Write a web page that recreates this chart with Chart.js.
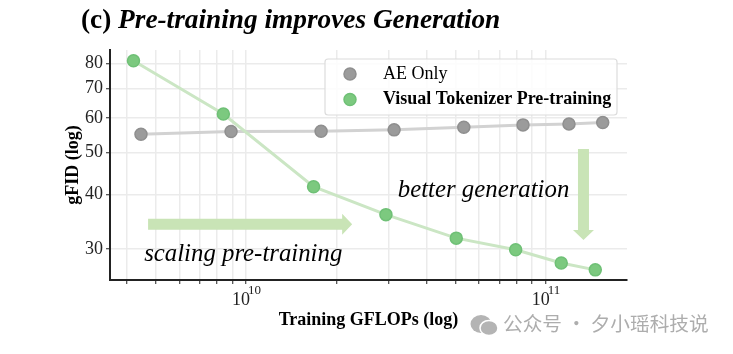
<!DOCTYPE html>
<html>
<head>
<meta charset="utf-8">
<style>
  html, body { margin: 0; padding: 0; background: #fff; }
  canvas { display: block; filter: blur(0.35px); }
</style>
<script src="https://cdn.jsdelivr.net/npm/chart.js@4"></script>
</head>
<body>
<canvas id="chart" width="733" height="354"></canvas>
<script>
const aeX = [4.46e9, 8.91e9, 1.78e10, 3.12e10, 5.33e10, 8.4e10, 1.196e11, 1.55e11];
const aeY = [55.0, 55.8, 55.9, 56.3, 57.1, 57.8, 58.1, 58.5];
const tokX = [4.21e9, 8.4e9, 1.68e10, 2.93e10, 5.03e10, 7.94e10, 1.127e11, 1.464e11];
const tokY = [81.1, 61.2, 41.7, 36.0, 31.8, 29.9, 27.9, 26.9];
const xTicks = [4e9, 5e9, 6e9, 7e9, 8e9, 9e9, 1e10, 2e10, 3e10, 4e10, 5e10, 6e10, 7e10, 8e10, 9e10, 1e11];
const xExponents = [[1e10, '10'], [1e11, '11']];
const yTicks = [30, 40, 50, 60, 70, 80];
const serif = '"Liberation Serif", serif';
const GREEN_ARROW = '#c9e4b6';

function toPairs(xs, ys) {
  return xs.map((x, i) => ({x: x, y: ys[i]}));
}

// title, x tick labels with superscript, legend, arrows, notes and watermark
const extras = {
  id: 'extras',
  afterDraw(chart) {
    const c = chart.ctx, sx = chart.scales.x, sy = chart.scales.y;
    c.save();
    c.textBaseline = 'middle';
    c.fillStyle = '#000';

    c.font = 'bold 27.3px ' + serif;
    c.fillText('(c) ', 81, 21);
    const w = c.measureText('(c) ').width;
    c.font = 'italic bold 27.3px ' + serif;
    c.fillText('Pre-training improves Generation', 81 + w, 21);

    // 10^n labels
    c.fillStyle = '#222';
    xExponents.forEach(e => {
      const px = sx.getPixelForValue(e[0]);
      c.font = '18px ' + serif;
      c.fillText('10', px - 14, 300);
      c.font = '13px ' + serif;
      c.fillText(e[1], px + 2, 291);
    });

    // arrows
    c.fillStyle = GREEN_ARROW;
    const ax0 = sx.getPixelForValue(4.71e9), ax1 = sx.getPixelForValue(2.26e10), ay = sy.getPixelForValue(34.2);
    c.beginPath();
    c.moveTo(ax0, ay - 5.5); c.lineTo(ax1 - 10, ay - 5.5); c.lineTo(ax1 - 10, ay - 10.5);
    c.lineTo(ax1, ay); c.lineTo(ax1 - 10, ay + 10.5); c.lineTo(ax1 - 10, ay + 5.5); c.lineTo(ax0, ay + 5.5);
    c.closePath(); c.fill();
    const bx = sx.getPixelForValue(1.337e11), by0 = sy.getPixelForValue(50.9), by1 = sy.getPixelForValue(31.5);
    c.beginPath();
    c.moveTo(bx - 5.5, by0); c.lineTo(bx + 5.5, by0); c.lineTo(bx + 5.5, by1 - 10); c.lineTo(bx + 10.5, by1 - 10);
    c.lineTo(bx, by1); c.lineTo(bx - 10.5, by1 - 10); c.lineTo(bx - 5.5, by1 - 10);
    c.closePath(); c.fill();

    // notes
    c.fillStyle = '#000';
    c.font = 'italic 24.8px ' + serif;
    c.fillText('better generation', sx.getPixelForValue(3.21e10), sy.getPixelForValue(40.9));
    c.fillText('scaling pre-training', sx.getPixelForValue(4.57e9), sy.getPixelForValue(29.1));

    // legend
    c.beginPath();
    c.roundRect(325, 59, 292, 56, 3);
    c.fillStyle = 'rgba(255,255,255,0.85)';
    c.fill();
    c.strokeStyle = '#dcdcdc';
    c.lineWidth = 1.2;
    c.stroke();
    chart.data.datasets.forEach((d, i) => {
      const ly = 74 + i * 25.5;
      c.beginPath();
      c.arc(350, ly, 6, 0, Math.PI * 2);
      c.fillStyle = d.backgroundColor;
      c.fill();
      c.strokeStyle = d.pointBorderColor;
      c.lineWidth = 1.5;
      c.stroke();
      c.fillStyle = '#000';
      c.font = (i === 1 ? 'bold ' : '') + '18px ' + serif;
      c.fillText(d.label, 383, ly);
    });

    // watermark
    c.fillStyle = '#b4b4b4';
    c.beginPath();
    c.ellipse(481, 324, 10.5, 9, 0, 0, Math.PI * 2);
    c.fill();
    c.strokeStyle = '#fff';
    c.lineWidth = 1.5;
    c.beginPath();
    c.ellipse(489, 328, 9, 7.5, 0, 0, Math.PI * 2);
    c.fill();
    c.stroke();
    c.fillStyle = '#adadad';
    c.font = '19.7px "Noto Sans CJK SC"';
    c.fillText('公众号 · 夕小瑶科技说', 503, 324);
    c.restore();
  }
};

const config = {
  type: 'line',
  data: {
    datasets: [
      {
        label: 'AE Only',
        data: toPairs(aeX, aeY),
        borderColor: '#d2d2d2',
        backgroundColor: '#9b9b9b',
        pointBorderColor: '#8f8f8f',
        borderWidth: 3,
        pointRadius: 6,
        pointBorderWidth: 1.5,
        order: 2
      },
      {
        label: 'Visual Tokenizer Pre-training',
        data: toPairs(tokX, tokY),
        borderColor: '#cbe6c4',
        backgroundColor: '#7cc97f',
        pointBorderColor: '#6fc076',
        borderWidth: 3,
        pointRadius: 6,
        pointBorderWidth: 1.5,
        order: 1
      }
    ]
  },
  options: {
    responsive: false,
    animation: false,
    layout: {padding: {top: 50, left: 60, right: 106, bottom: 0}},
    plugins: {legend: {display: false}, tooltip: {enabled: false}},
    scales: {
      x: {
        type: 'logarithmic',
        min: 3.515e9,
        max: 1.868e11,
        afterBuildTicks: s => { s.ticks = xTicks.map(v => ({value: v})); },
        afterFit: s => { s.height = 74; },
        ticks: {
          autoSkip: false,
          maxRotation: 0,
          callback: () => ''
        },
        grid: {color: '#ebebeb', lineWidth: 1.5, tickColor: '#222', tickLength: 4, tickWidth: 1},
        border: {color: '#222', width: 2},
        title: {
          display: true,
          text: 'Training GFLOPs (log)',
          color: '#000',
          font: {family: serif, size: 18, weight: 'bold'},
          padding: {top: 0, bottom: 23}
        }
      },
      y: {
        type: 'logarithmic',
        min: 25.5,
        max: 85.8,
        afterBuildTicks: s => { s.ticks = yTicks.map(v => ({value: v})); },
        afterFit: s => { s.width = 50; },
        ticks: {
          autoSkip: false,
          padding: 3,
          color: '#222',
          font: {family: serif, size: 18},
          callback: v => String(v)
        },
        grid: {color: '#ebebeb', lineWidth: 1.5, tickColor: '#222', tickLength: 4, tickWidth: 1},
        border: {color: '#222', width: 2},
        title: {
          display: true,
          text: 'gFID (log)',
          color: '#000',
          font: {family: serif, size: 18, weight: 'bold'},
          padding: {top: 3, bottom: 0}
        }
      }
    }
  },
  plugins: [extras]
};

window.onload = function() {
  new Chart(document.getElementById('chart').getContext('2d'), config);
};
</script>
</body>
</html>
